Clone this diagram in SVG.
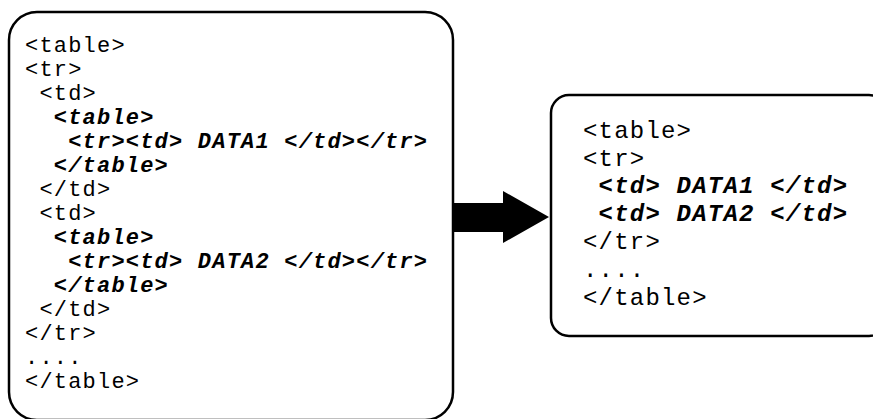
<svg xmlns="http://www.w3.org/2000/svg" width="873" height="419" viewBox="0 0 873 419">
<style>
.box{fill:#fff;stroke:#000;stroke-width:2.5}
.t{font-family:"Liberation Mono","Courier New",monospace;fill:#000;white-space:pre}
.l{font-size:22px;letter-spacing:1.2px}
.r{font-size:24px;letter-spacing:1.2px}
.b{font-weight:bold;font-style:italic}
</style>
<rect width="873" height="419" fill="#fff"/>
<g id="connectors">
<polygon points="453,203 503,203 503,191 549,217 503,243 503,232 453,232" fill="#000"/>
</g>
<g id="nested">
<rect class="box" x="9" y="12" width="444" height="408" rx="28" ry="28"/>
<text class="t l" x="25" y="52" xml:space="preserve">&lt;table&gt;</text>
<text class="t l" x="25" y="76" xml:space="preserve">&lt;tr&gt;</text>
<text class="t l" x="25" y="100" xml:space="preserve"> &lt;td&gt;</text>
<text class="t l b" x="25" y="124" xml:space="preserve">  &lt;table&gt;</text>
<text class="t l b" x="25" y="148" xml:space="preserve">   &lt;tr&gt;&lt;td&gt; DATA1 &lt;/td&gt;&lt;/tr&gt;</text>
<text class="t l b" x="25" y="172" xml:space="preserve">  &lt;/table&gt;</text>
<text class="t l" x="25" y="196" xml:space="preserve"> &lt;/td&gt;</text>
<text class="t l" x="25" y="220" xml:space="preserve"> &lt;td&gt;</text>
<text class="t l b" x="25" y="244" xml:space="preserve">  &lt;table&gt;</text>
<text class="t l b" x="25" y="268" xml:space="preserve">   &lt;tr&gt;&lt;td&gt; DATA2 &lt;/td&gt;&lt;/tr&gt;</text>
<text class="t l b" x="25" y="292" xml:space="preserve">  &lt;/table&gt;</text>
<text class="t l" x="25" y="316" xml:space="preserve"> &lt;/td&gt;</text>
<text class="t l" x="25" y="340" xml:space="preserve">&lt;/tr&gt;</text>
<text class="t l" x="25" y="364" xml:space="preserve">....</text>
<text class="t l" x="25" y="388" xml:space="preserve">&lt;/table&gt;</text>
</g>
<g id="flat">
<rect class="box" x="551" y="95" width="336" height="241" rx="18" ry="18"/>
<text class="t r" x="583" y="138" xml:space="preserve">&lt;table&gt;</text>
<text class="t r" x="583" y="166" xml:space="preserve">&lt;tr&gt;</text>
<text class="t r b" x="583" y="193" xml:space="preserve"> &lt;td&gt; DATA1 &lt;/td&gt;</text>
<text class="t r b" x="583" y="221" xml:space="preserve"> &lt;td&gt; DATA2 &lt;/td&gt;</text>
<text class="t r" x="583" y="249" xml:space="preserve">&lt;/tr&gt;</text>
<text class="t r" x="583" y="277" xml:space="preserve">....</text>
<text class="t r" x="583" y="305" xml:space="preserve">&lt;/table&gt;</text>
</g>
</svg>
